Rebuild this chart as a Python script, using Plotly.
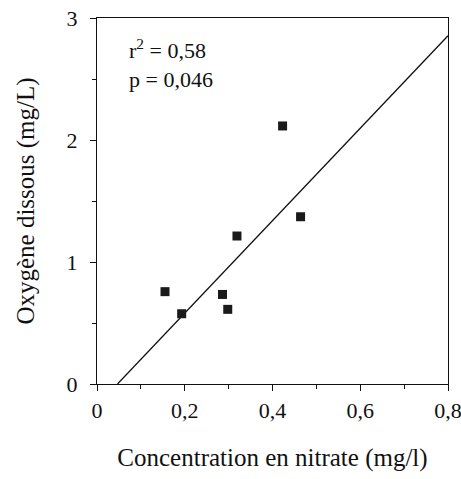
import plotly.graph_objects as go

# Data
nitrate = [0.155, 0.193, 0.286, 0.298, 0.319, 0.423, 0.464]
oxygene = [0.757, 0.576, 0.734, 0.612, 1.213, 2.115, 1.371]

# Regression line (slope, intercept) and its drawn span
slope = 3.79
intercept = -0.177
fit_x_range = [0.0467, 0.8]

x_tickvals = [0, 0.2, 0.4, 0.6, 0.8]
x_ticktext = ["0", "0,2", "0,4", "0,6", "0,8"]
y_tickvals = [0, 1, 2, 3]
y_ticktext = ["0", "1", "2", "3"]

stat_lines = ["r<sup>2</sup> = 0,58", "p = 0,046"]

fit_y = [slope * x + intercept for x in fit_x_range]

font_family = "Liberation Serif, Times New Roman, serif"
ink = "#111111"

fig = go.Figure()
fig.add_trace(go.Scatter(
    x=fit_x_range, y=fit_y, mode="lines",
    line=dict(color=ink, width=1.3), showlegend=False, hoverinfo="skip"))
fig.add_trace(go.Scatter(
    x=nitrate, y=oxygene, mode="markers",
    marker=dict(symbol="square", size=9, color="#1a1a1a"), showlegend=False))

fig.add_annotation(
    xref="paper", yref="paper", x=0.085, y=0.875, xanchor="left", yanchor="middle",
    text="<br>".join(stat_lines), showarrow=False, align="left",
    font=dict(family=font_family, size=22, color=ink))

axis_common = dict(
    showline=True, linecolor=ink, linewidth=1.3, mirror=True,
    showgrid=False, zeroline=False, ticks="outside", ticklen=6, tickwidth=1.2,
    tickcolor=ink, automargin=False, ticklabeloverflow="allow",
    tickfont=dict(family=font_family, size=22, color=ink),
    minor=dict(ticks="outside", ticklen=4, tickwidth=1, tickcolor=ink, showgrid=False),
)

fig.update_xaxes(
    range=[0, 0.8], tickvals=x_tickvals, ticktext=x_ticktext,
    minor_dtick=0.1,
    title=dict(text="Concentration en nitrate (mg/l)", standoff=26,
               font=dict(family=font_family, size=25, color=ink)),
    **axis_common)
fig.update_yaxes(
    range=[0, 3], tickvals=y_tickvals, ticktext=y_ticktext,
    minor_dtick=0.5, ticklabelstandoff=8,
    title=dict(text="Oxygène dissous (mg/L)", standoff=24,
               font=dict(family=font_family, size=25, color=ink)),
    **axis_common)

fig.update_layout(
    width=461, height=479,
    margin=dict(l=97, r=13, t=18, b=95, pad=0),
    plot_bgcolor="white", paper_bgcolor="white",
    font=dict(family=font_family, color=ink),
)

fig.write_html("out.html", config={"displayModeBar": False},
               post_script="document.body.style.margin='0';document.body.style.overflow='hidden';")
